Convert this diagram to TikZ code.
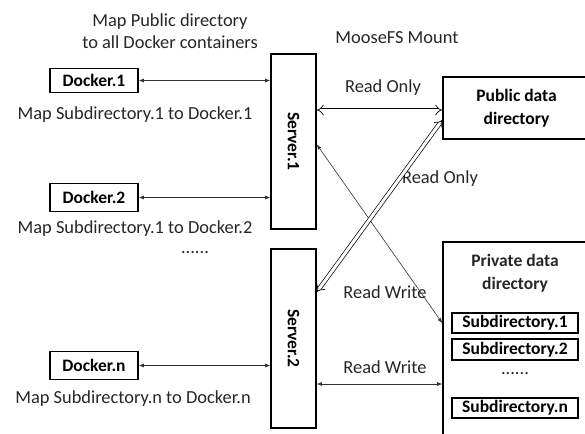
\documentclass[tikz,border=0pt]{standalone}
\usepackage{fontspec}
\setmainfont{Carlito}
\usetikzlibrary{arrows.meta}

\begin{document}
\begin{tikzpicture}
  [x=1pt,y=-1pt,font=\fontsize{18.4}{22}\selectfont,
   box/.style={draw,line width=1.6pt,inner sep=0pt,font=\fontsize{17.5}{23}\selectfont\bfseries},
   lbl/.style={text=black!85,inner sep=0pt}]
 \tikzset{edge/.style = {{Latex[length=5pt,width=4pt]}-{Latex[length=5pt,width=4pt]},line width=0.6pt,black!80},
          dedge/.style = {{Implies}-{Implies},double,double distance=3pt,line width=0.7pt}}
  \useasboundingbox (0,0) rectangle (585,433);

  \node[box,minimum width=88pt,minimum height=24pt] (d1) at (94,80.5) {Docker.1};
  \node[box,minimum width=88pt,minimum height=28pt] (d2) at (94,197.5) {Docker.2};
  \node[box,minimum width=88pt,minimum height=28pt] (dn) at (94,365.5) {Docker.n};
  \node[box,minimum width=45pt,minimum height=175pt] (s1) at (293.5,141.5) {\rotatebox{-90}{Server.1}};
  \node[box,minimum width=45pt,minimum height=179pt] (s2) at (293.5,338.5) {\rotatebox{-90}{Server.2}};
  \node[box,minimum width=147pt,minimum height=62pt,align=center] (pub) at (516.5,108) {Public data\\directory};
  \node[box,minimum width=147pt,minimum height=203pt] (priv) at (516.5,343.5) {};
  \node[box,line width=1.2pt,minimum width=126pt,minimum height=20pt] (sub1) at (515,323) {Subdirectory.1};
  \node[box,line width=1.2pt,minimum width=126pt,minimum height=21pt] (sub2) at (515,349.5) {Subdirectory.2};
  \node[box,line width=1.2pt,minimum width=126pt,minimum height=20pt] (subn) at (515,408) {Subdirectory.n};

  \node[lbl,font=\fontsize{17.5}{23}\selectfont\bfseries,align=center] (privtitle) at (515,273.5) {Private data\\directory};
  \node[lbl] (subdots) at (515,374) {......};
  \node[lbl,align=center] (pubmap) at (170,31) {Map Public directory\\ to all Docker containers};
  \node[lbl] (moose) at (397,38) {MooseFS Mount};
  \node[lbl] (map1) at (135,115) {Map Subdirectory.1 to Docker.1};
  \node[lbl] (map2) at (135,229) {Map Subdirectory.1 to Docker.2};
  \node[lbl] (dockdots) at (195,253) {......};
  \node[lbl] (mapn) at (133,399) {Map Subdirectory.n to Docker.n};
  \node[lbl] (ro1) at (383,88) {Read Only};
  \node[lbl] (ro2) at (440,179) {Read Only};
  \node[lbl] (rw1) at (385,292) {Read Write};
  \node[lbl] (rw2) at (385,367) {Read Write};

  \foreach \from/\to in {d1/s1,d2/s1,dn/s2}
    \draw[edge] (\from.east) -- (\from -| \to.west);

  \draw[edge] ([yshift=-3pt]s1.east) -- (priv.west |- sub1);
  \draw[edge] ([yshift=-45.5pt]s2.east) -- ([yshift=-45.5pt]s2.east -| priv.west);
  \draw[dedge] ([yshift=-2pt]s1.east |- pub) -- ([yshift=-2pt]pub.west);
  \draw[dedge] (s2.east |- rw1) -- ([yshift=-12pt]pub.west);

\end{tikzpicture}
\end{document}
